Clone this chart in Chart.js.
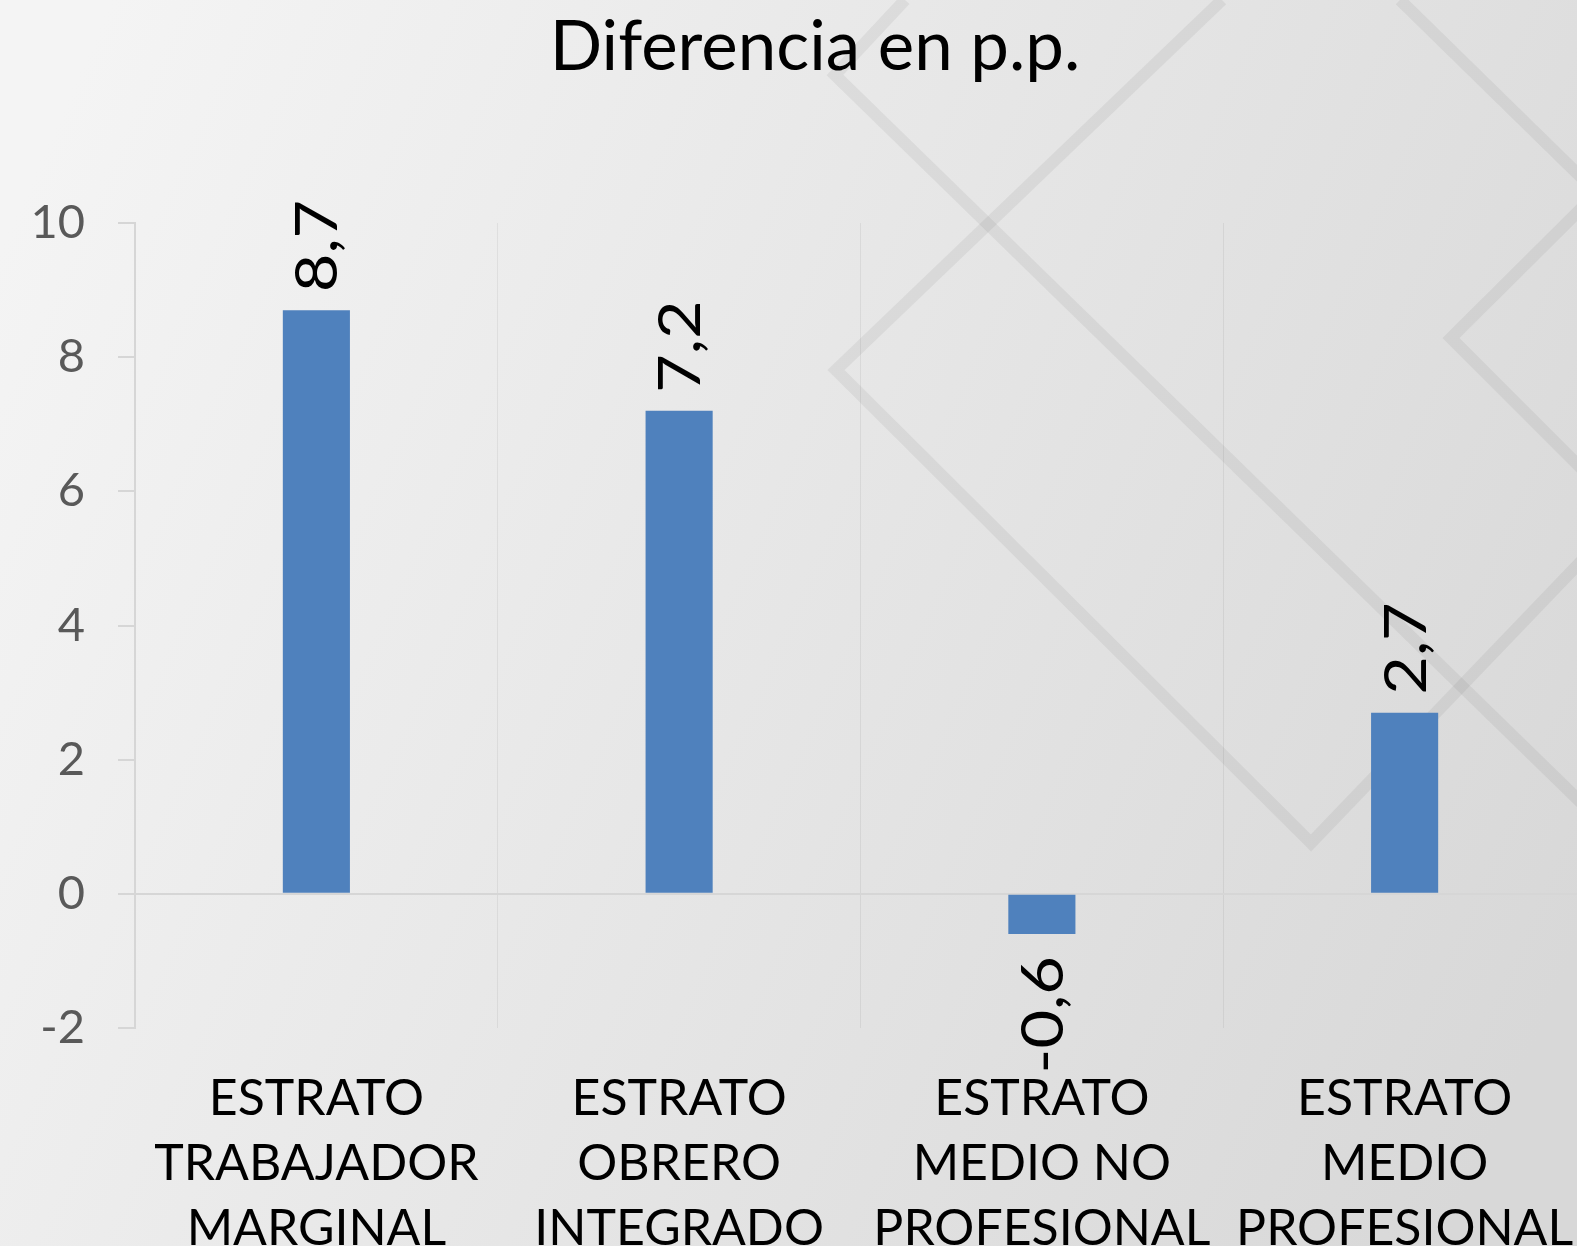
<!DOCTYPE html>
<html>
<head>
<meta charset="utf-8">
<script src="https://cdn.jsdelivr.net/npm/chart.js@4"></script>
<style>
  html, body { margin: 0; padding: 0; overflow: hidden; background: #e8e8e8; }
  #wrap { position: absolute; left: 0; top: 0; width: 1630px; height: 1301px; }
</style>
</head>
<body>
<div id="wrap"><canvas id="chart"></canvas></div>
<script>
const categories = [
  ["ESTRATO", "TRABAJADOR", "MARGINAL"],
  ["ESTRATO", "OBRERO", "INTEGRADO"],
  ["ESTRATO", "MEDIO NO", "PROFESIONAL"],
  ["ESTRATO", "MEDIO", "PROFESIONAL"],
];
const values = [8.7, 7.2, -0.6, 2.7];
const yMin = -2;
const yMax = 10;
const yStep = 2;
const chartTitle = "Diferencia en p.p.";

// slide background: soft gradient with the diamond outlines
const backdrop = {
  id: "backdrop",
  beforeDraw(chart) {
    const ctx = chart.ctx;
    ctx.save();
    const g = ctx.createLinearGradient(0, 250, 1577, 950);
    g.addColorStop(0, "#f4f4f4");
    g.addColorStop(0.5, "#e6e6e6");
    g.addColorStop(1, "#d8d8d8");
    ctx.fillStyle = g;
    ctx.fillRect(0, 0, chart.width, chart.height);
    ctx.strokeStyle = "rgba(110,110,110,0.10)";
    ctx.lineWidth = 12;
    ctx.lineJoin = "miter";
    const paths = [
      [[1222, 0], [836, 370], [1311, 843], [1640, 500]],
      [[905, 0], [835, 75], [1640, 860]],
      [[1400, 0], [1640, 235]],
      [[1640, 150], [1451, 338], [1640, 527]],
    ];
    paths.forEach((p) => {
      ctx.beginPath();
      ctx.moveTo(p[0][0], p[0][1]);
      for (let i = 1; i < p.length; i++) ctx.lineTo(p[i][0], p[i][1]);
      ctx.stroke();
    });
    // title sits over the slide, not centred on the plot
    ctx.font = "69px Lato";
    ctx.fillStyle = "#000";
    ctx.textAlign = "center";
    ctx.textBaseline = "alphabetic";
    ctx.fillText(chartTitle, 815, 70);
    ctx.restore();
  },
};

// rotated value labels
const barLabels = {
  id: "barLabels",
  afterDatasetsDraw(chart) {
    const ctx = chart.ctx;
    const meta = chart.getDatasetMeta(0);
    const size = 58;
    ctx.save();
    ctx.font = size + "px Lato";
    ctx.fillStyle = "#000";
    ctx.textBaseline = "alphabetic";
    meta.data.forEach((bar, i) => {
      const v = values[i];
      const txt = String(v).replace(".", ",");
      ctx.save();
      if (v >= 0) {
        ctx.translate(bar.x, bar.y - 18);
        ctx.rotate(-Math.PI / 2);
        ctx.textAlign = "left";
      } else {
        ctx.translate(bar.x, bar.y + 22);
        ctx.rotate(-Math.PI / 2);
        ctx.textAlign = "right";
      }
      ctx.scale(1.15, 1);
      ctx.fillText(txt, 0, size * 0.36);
      ctx.restore();
    });
    ctx.restore();
  },
};

new Chart(document.getElementById("chart"), {
  type: "bar",
  data: {
    labels: categories,
    datasets: [
      {
        data: values,
        backgroundColor: "#4f81bd",
        borderWidth: 0,
        barPercentage: 1,
        categoryPercentage: 0.185,
      },
    ],
  },
  options: {
    responsive: true,
    maintainAspectRatio: false,
    animation: false,
    layout: { padding: { left: 0, right: 44, top: 223, bottom: 2 } },
    plugins: {
      legend: { display: false },
      tooltip: { enabled: false },
      title: { display: false },
    },
    scales: {
      x: {
        grid: { color: "rgba(0,0,0,0.06)", lineWidth: 1, drawTicks: false },
        border: { display: false },
        ticks: {
          color: "#000",
          font: { family: "Lato", size: 50, lineHeight: 1.3 },
          padding: 38,
          maxRotation: 0,
          autoSkip: false,
        },
      },
      y: {
        min: yMin,
        max: yMax,
        afterFit(scale) { scale.width = 135; },
        border: { display: true, color: "#d6d6d6", width: 2 },
        grid: {
          color: (c) => (c.tick && c.tick.value === 0 ? "#d6d6d6" : "transparent"),
          tickColor: "#d6d6d6",
          lineWidth: 2,
          tickLength: 17,
        },
        ticks: {
          stepSize: yStep,
          color: "#595959",
          font: { family: "Lato", size: 47 },
          padding: 33,
          callback: (v) => String(v),
        },
      },
    },
  },
  plugins: [backdrop, barLabels],
});
</script>
</body>
</html>
